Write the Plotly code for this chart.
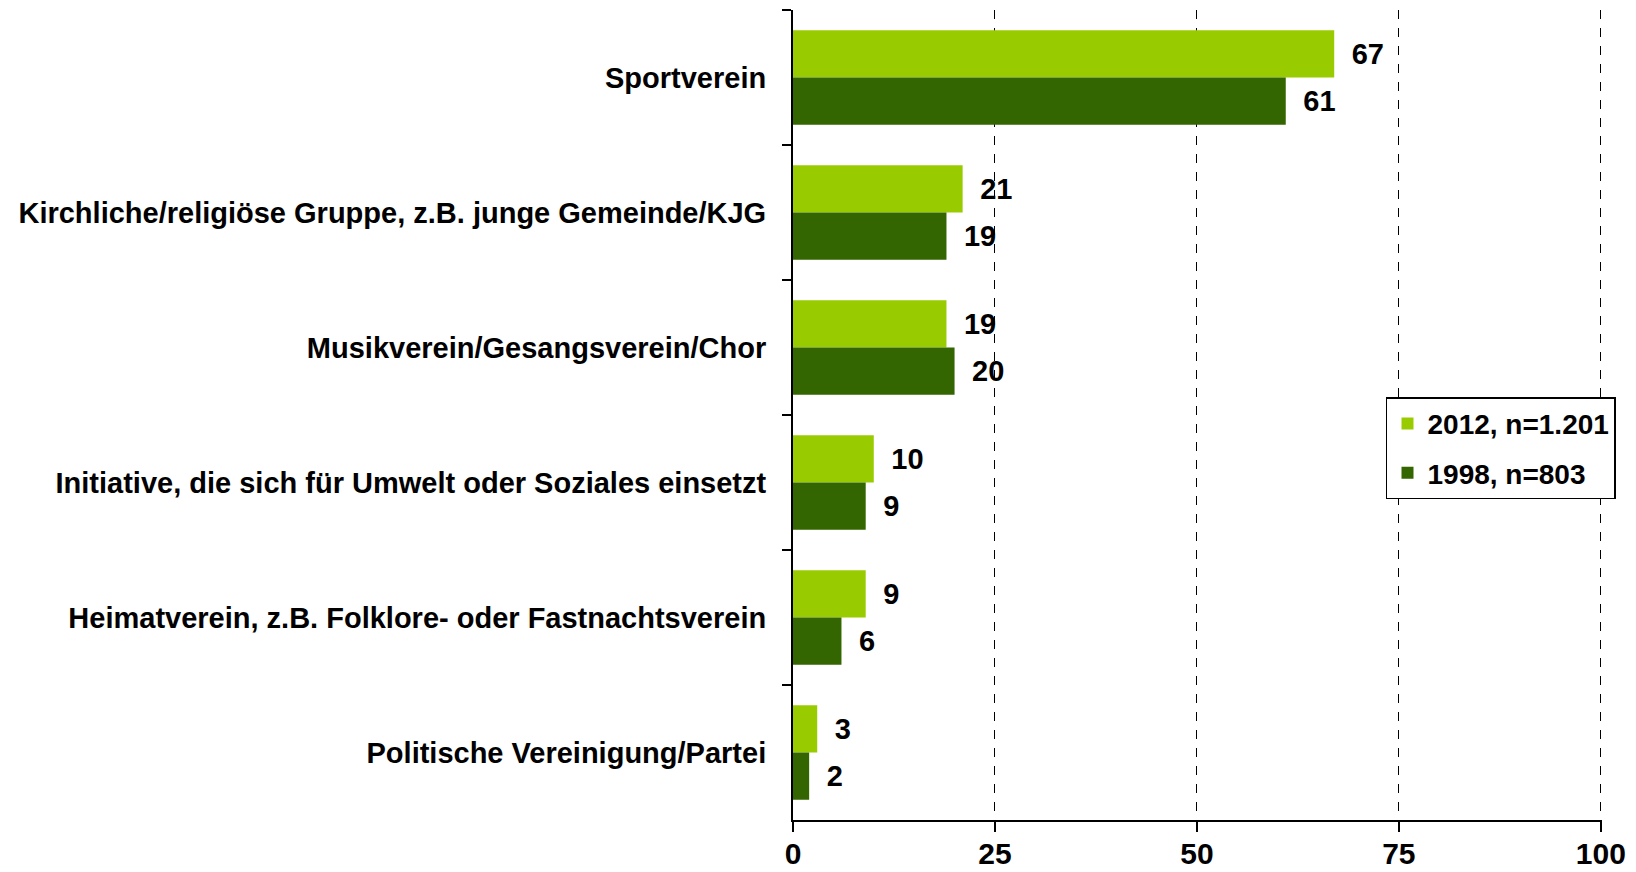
import plotly.graph_objects as go

# 데이터
kategorien = [
    'Sportverein',
    'Kirchliche/religiöse Gruppe, z.B. junge Gemeinde/KJG',
    'Musikverein/Gesangsverein/Chor',
    'Initiative, die sich für Umwelt oder Soziales einsetzt',
    'Heimatverein, z.B. Folklore- oder Fastnachtsverein',
    'Politische Vereinigung/Partei',
]
werte_2012 = [67, 21, 19, 10, 9, 3]
werte_1998 = [61, 19, 20, 9, 6, 2]
x_ticks = [0, 25, 50, 75, 100]

FONT = 'Liberation Sans, Arial, sans-serif'

fig = go.Figure()

fig.add_trace(go.Bar(
    y=kategorien, x=werte_2012, orientation='h',
    name='2012, n=1.201', legendgroup='a',
    marker=dict(color='#99CC00', line=dict(width=0)),
    text=werte_2012, texttemplate='\u2002%{x}', textposition='outside',
    cliponaxis=False,
    textfont=dict(family=FONT, size=29, color='black', weight='bold'),
))
fig.add_trace(go.Bar(
    y=kategorien, x=werte_1998, orientation='h',
    name='1998, n=803', legendgroup='b',
    marker=dict(color='#336600', line=dict(width=0)),
    text=werte_1998, texttemplate='\u2002%{x}', textposition='outside',
    cliponaxis=False,
    textfont=dict(family=FONT, size=29, color='black', weight='bold'),
))

# 페이지 body 여백(8px)을 감안한 크기
fig.update_layout(
    width=1628, height=864,
    margin=dict(l=785, r=34, t=2, b=52),
    barmode='group',
    bargap=0.30,
    bargroupgap=0,
    plot_bgcolor='white',
    paper_bgcolor='white',
    font=dict(family=FONT, size=29, color='black', weight='bold'),
    showlegend=True,
    legend=dict(
        x=0.733, y=0.522, xanchor='left', yanchor='top',
        bgcolor='white', bordercolor='black', borderwidth=1.5,
        font=dict(family=FONT, size=28, color='black', weight='bold'),
        tracegroupgap=10,
        itemwidth=30,
    ),
)

fig.update_xaxes(
    range=[0, 100.15],
    tickvals=x_ticks,
    showgrid=True, gridcolor='black', griddash='dash', gridwidth=1,
    zeroline=False,
    showline=True, linecolor='black', linewidth=2,
    ticks='outside', ticklen=10, tickcolor='black', tickwidth=2,
    ticklabelstandoff=-4,
    tickfont=dict(family=FONT, size=30, color='black', weight='bold'),
    automargin=False,
    fixedrange=True,
)
fig.update_yaxes(
    autorange='reversed',
    type='category',
    showgrid=False,
    showline=True, linecolor='black', linewidth=2,
    ticks='outside', ticklen=9, tickcolor='black', tickwidth=2,
    tickson='boundaries',
    ticklabelstandoff=19,
    tickfont=dict(family=FONT, size=29, color='black', weight='bold'),
    automargin=False,
)

fig.write_html("out.html")
